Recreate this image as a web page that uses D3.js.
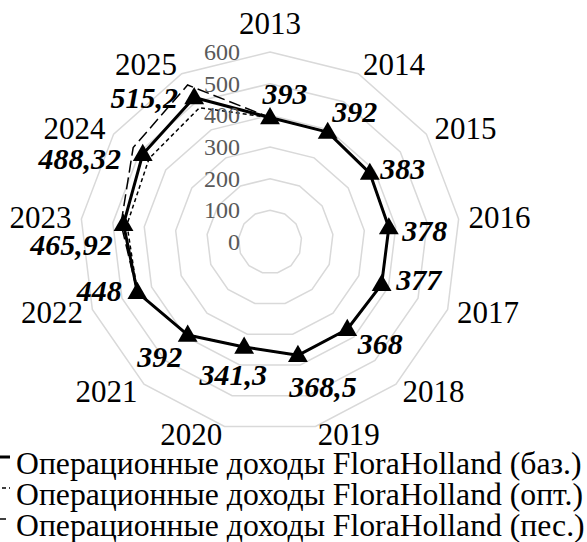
<!DOCTYPE html>
<html><head><meta charset="utf-8">
<script src="https://cdn.jsdelivr.net/npm/d3@7"></script>
<style>
html,body{margin:0;padding:0;background:#fff;overflow:hidden}
svg{display:block}
text{font-family:"Liberation Serif","Times New Roman",serif}
</style></head>
<body>
<svg id="chart" width="587" height="542"></svg>
<script>
const categories = ["2013","2014","2015","2016","2017","2018","2019","2020","2021","2022","2023","2024","2025"];
const baseValues = [393,392,383,378,377,368,368.5,341.3,392,448,465.92,488.32,515.2];
const optValues  = [393,392,383,378,377,368,368.5,341.3,392,448,474,525,560];
const pesValues  = [393,392,383,378,377,368,368.5,341.3,392,448,455,464,479];
const baseLabels = ["393","392","383","378","377","368","368,5","341,3","392","448","465,92","488,32","515,2"];
const ringTicks = [0,100,200,300,400,500,600];
const legendNames = [
  "Операционные доходы FloraHolland (баз.)",
  "Операционные доходы FloraHolland (опт.)",
  "Операционные доходы FloraHolland (пес.)"
];

// layout (label offsets relative to their point, in px)
const labelOffsets = [[15,-24],[27,-21],[33,-5],[36,3],[37,-5],[33,14],[25,31],[-11,28],[-28,22],[-38,-2],[-52,20],[-63,4],[-50,0]];

const svg = d3.select("#chart");
const cx = 270, cy = 242, R = 190;
const n = categories.length;
const step = 2*Math.PI/n;
const r = d3.scaleLinear().domain([0,600]).range([0,R]);
const ang = i => i*step;
const pt = (i,v) => [cx + r(v)*Math.sin(ang(i)), cy - r(v)*Math.cos(ang(i))];
const FONT = "'Liberation Serif','Times New Roman',serif";

const g = svg.append("g").attr("transform",`translate(${cx},${cy})`);

// grid rings
const ringLine = d3.lineRadial().angle((d,i)=>ang(i)).radius(d=>r(d)).curve(d3.curveLinearClosed);
g.selectAll("path.ring").data(ringTicks.filter(t=>t>0)).join("path")
  .attr("class","ring")
  .attr("d", t => ringLine(categories.map(()=>t)))
  .attr("fill","none").attr("stroke","#d9d9d9").attr("stroke-width",1.5);

// ring labels
svg.selectAll("text.tick").data(ringTicks).join("text")
  .attr("class","tick").attr("font-family",FONT)
  .attr("x", cx-30).attr("y", t => cy - r(t))
  .attr("text-anchor","end").attr("dominant-baseline","central")
  .attr("font-size",24).attr("fill","#595959")
  .text(t=>t);

// series lines
const seriesLine = d3.lineRadial().angle((d,i)=>ang(i)).radius(d=>r(d)).curve(d3.curveLinearClosed);
g.append("path").attr("d", seriesLine(pesValues)).attr("fill","none")
  .attr("stroke","#000").attr("stroke-width",1.5).attr("stroke-dasharray","4,3");
g.append("path").attr("d", seriesLine(optValues)).attr("fill","none")
  .attr("stroke","#000").attr("stroke-width",1.5).attr("stroke-dasharray","12,5");
g.append("path").attr("d", seriesLine(baseValues)).attr("fill","none")
  .attr("stroke","#000").attr("stroke-width",3).attr("stroke-linejoin","round");

// markers
const tri = d3.symbol(d3.symbolTriangle, 170);
svg.selectAll("path.mk").data(baseValues).join("path")
  .attr("class","mk")
  .attr("transform",(v,i)=>{const p=pt(i,v);return `translate(${p[0]},${p[1]+1})`;})
  .attr("d", tri()).attr("fill","#000");

// data labels
svg.selectAll("text.dl").data(baseValues).join("text")
  .attr("class","dl").attr("font-family",FONT)
  .attr("x",(v,i)=>pt(i,v)[0]+labelOffsets[i][0])
  .attr("y",(v,i)=>pt(i,v)[1]+labelOffsets[i][1])
  .attr("text-anchor","middle").attr("dominant-baseline","central")
  .attr("font-size",30).attr("font-weight","bold").attr("font-style","italic")
  .text((v,i)=>baseLabels[i]);

// category labels
const LR = 200;
svg.selectAll("text.cat").data(categories).join("text")
  .attr("class","cat").attr("font-family",FONT)
  .each(function(c,i){
    const s = Math.sin(ang(i)), co = Math.cos(ang(i));
    const x = cx + LR*s, y = cy - LR*co;
    const t = d3.select(this);
    if (Math.abs(s) < 0.05) {
      t.attr("x",x).attr("y",y-19).attr("text-anchor","middle");
    } else {
      t.attr("x",x).attr("y", co < -0.9 ? y-2 : y).attr("text-anchor", s>0 ? "start" : "end");
    }
  })
  .attr("dominant-baseline","central")
  .attr("font-size",31).attr("fill","#000")
  .text(c=>c);

// legend
const legendY = [463, 494, 525];
const dashes = [null, "4,3", "12,5"];
const widths = [3, 1.5, 1.5];
const lg = svg.selectAll("g.lg").data(legendNames).join("g").attr("class","lg")
  .attr("transform",(d,i)=>`translate(0,${legendY[i]})`);
lg.append("line").attr("x1",-40).attr("x2",10).attr("y1",-6).attr("y2",-6)
  .attr("stroke","#000").attr("stroke-width",(d,i)=>widths[i])
  .attr("stroke-dasharray",(d,i)=>dashes[i]);
lg.append("text").attr("x",16).attr("y",0).attr("dominant-baseline","central")
  .attr("font-family",FONT)
  .attr("font-size",31.7).attr("fill","#000").text(d=>d);
</script>
</body></html>
